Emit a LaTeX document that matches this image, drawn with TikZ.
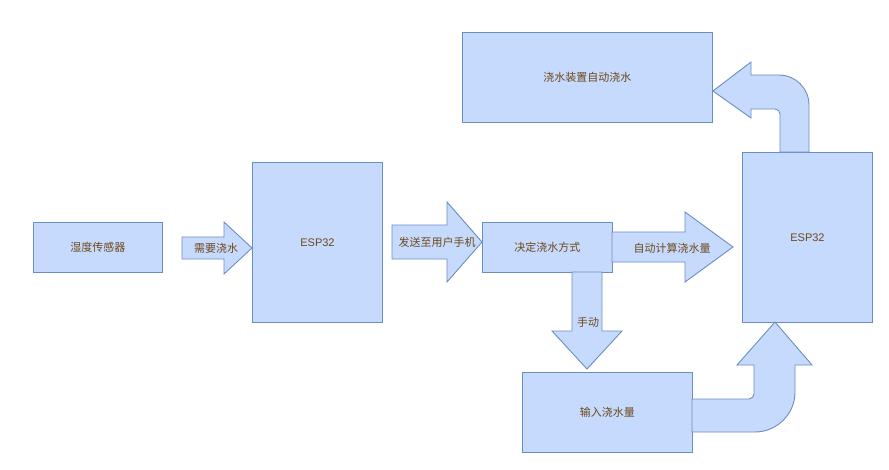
\documentclass[tikz,border=0pt]{standalone}
\usepackage{fontspec}
\setmainfont{Liberation Sans}
\newfontfamily\cjk{Noto Sans CJK SC}
\definecolor{boxfill}{RGB}{198,218,254}
\definecolor{boxdraw}{RGB}{108,142,191}
\definecolor{txt}{RGB}{110,72,24}
\tikzset{
  box/.style={draw=boxdraw,fill=boxfill,line width=0.9pt,anchor=north west,inner sep=0pt,text=txt,font=\fontsize{11}{13}\selectfont\cjk},
  barrow/.style={draw=boxdraw,fill=boxfill,line width=0.9pt,line join=miter},
  lbl/.style={text=txt,font=\fontsize{11}{13}\selectfont\cjk,inner sep=0pt}
}
\begin{document}
\begin{tikzpicture}[x=1pt,y=-1pt]
\useasboundingbox (0,0) rectangle (889,469);
% boxes
\node[box,minimum width=129pt,minimum height=50pt] (sensor) at (33,222) {湿度传感器};
\node[box,minimum width=130pt,minimum height=160pt] (esp1) at (252,162) {\fontspec{Liberation Sans}ESP32};
\node[box,minimum width=130pt,minimum height=50pt] (decide) at (482,222) {决定浇水方式};
\node[box,minimum width=130pt,minimum height=170pt] (esp2) at (742,152) {\fontspec{Liberation Sans}ESP32};
\node[box,minimum width=250pt,minimum height=90pt] (auto) at (462,32) {浇水装置自动浇水};
\node[box,minimum width=170pt,minimum height=80pt] (input) at (522,372) {输入浇水量};
% arrow 1
\draw[barrow] (182,237) -- (224,237) -- (224,222) -- (esp1.west |- 0,248) -- (224,274) -- (224,259) -- (182,259) -- cycle;
\node[lbl] (a1) at (216,248) {需要浇水};
% arrow 2
\draw[barrow] (392,225) -- (447,225) -- (447,202) -- (decide.west |- 0,242) -- (447,282) -- (447,259) -- (392,259) -- cycle;
\node[lbl] (a2) at (437,242) {发送至用户手机};
% arrow 3
\draw[barrow] (612,232) -- (685,232) -- (685,212) -- (733,247) -- (685,282) -- (685,262) -- (612,262) -- cycle;
\node[lbl] (a3) at (672,248) {自动计算浇水量};
% arrow 4
\draw[barrow] (572,272) -- (602,272) -- (602,331) -- (622,331) -- (587,369) -- (552,331) -- (572,331) -- cycle;
\node[lbl] (a4) at (588,322) {手动};
% bottom curved arrow
\draw[barrow] (692,399) -- (749,399) .. controls (751.8,399) and (754,396.2) .. (754,394) -- (754,365) -- (737,365) -- (775,322) -- (812,365) -- (795,365) -- (795,392) .. controls (795,414) and (777,432) .. (755,432) -- (692,432) -- cycle;
% top curved arrow
\draw[barrow] (780,152) -- (780,114) .. controls (780,111.2) and (777.8,109) .. (775,109) -- (751,109) -- (751,118) -- (auto.east |- 0,91) -- (751,62) -- (751,75) -- (779,75) .. controls (795.6,75) and (809,88.4) .. (809,105) -- (809,152) -- cycle;
\end{tikzpicture}
\end{document}
